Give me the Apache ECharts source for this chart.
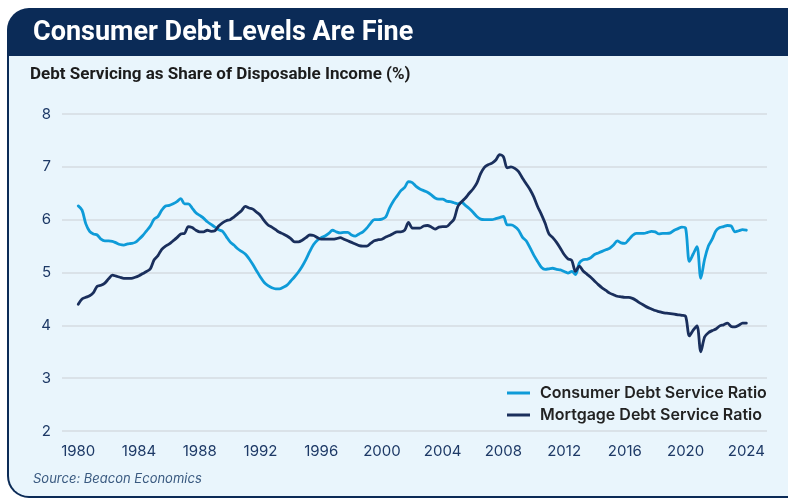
<!DOCTYPE html>
<html>
<head>
<meta charset="utf-8">
<script src="https://cdn.jsdelivr.net/npm/echarts@6/dist/echarts.min.js"></script>
<style>
html,body{margin:0;padding:0;background:#ffffff;}
#c{width:788px;height:500px;}
</style>
</head>
<body>
<div id="c"></div>
<script>
// Quarterly data, 1980Q1 .. 2024Q1
const startYear = 1980;
const yearTicks = [1980,1984,1988,1992,1996,2000,2004,2008,2012,2016,2020,2024];
const seriesNames = ['Consumer Debt Service Ratio','Mortgage Debt Service Ratio'];
const consumerDSR = [
  6.26,6.18,5.92,5.78, 5.73,5.71,5.63,5.60, 5.60,5.59,5.56,5.53, 5.52,5.54,5.55,5.57,
  5.63,5.70,5.79,5.88, 6.01,6.06,6.18,6.26, 6.27,6.30,6.34,6.40, 6.30,6.30,6.22,6.13,
  6.08,6.03,5.96,5.91, 5.86,5.81,5.78,5.68, 5.58,5.52,5.45,5.40, 5.35,5.26,5.15,5.03,
  4.91,4.81,4.75,4.71, 4.69,4.69,4.72,4.76, 4.84,4.92,5.01,5.12, 5.25,5.40,5.53,5.61,
  5.66,5.69,5.74,5.80, 5.77,5.75,5.76,5.76, 5.71,5.69,5.73,5.77, 5.84,5.93,6.00,6.00,
  6.01,6.05,6.22,6.35, 6.45,6.55,6.61,6.72, 6.70,6.63,6.58,6.55, 6.52,6.47,6.41,6.39,
  6.39,6.35,6.34,6.32, 6.30,6.33,6.27,6.21, 6.14,6.06,6.01,6.00, 6.00,6.00,6.02,6.04,
  6.06,5.90,5.90,5.87, 5.80,5.67,5.60,5.47, 5.33,5.21,5.10,5.06, 5.07,5.08,5.06,5.05,
  5.02,4.99,5.02,4.96, 5.18,5.24,5.25,5.28, 5.34,5.37,5.40,5.43, 5.46,5.52,5.60,5.56,
  5.55,5.62,5.70,5.74, 5.74,5.74,5.76,5.78, 5.77,5.73,5.74,5.74, 5.75,5.80,5.83,5.86,
  5.84,5.21,5.35,5.49, 4.89,5.25,5.50,5.63, 5.79,5.85,5.87,5.89, 5.88,5.77,5.79,5.81,
  5.80
];
const mortgageDSR = [
  4.40,4.50,4.53,4.56, 4.62,4.74,4.76,4.80, 4.88,4.95,4.93,4.91, 4.89,4.89,4.89,4.91,
  4.94,4.98,5.02,5.07, 5.24,5.32,5.44,5.50, 5.54,5.60,5.66,5.73, 5.74,5.87,5.85,5.80,
  5.77,5.77,5.80,5.78, 5.79,5.88,5.94,5.98, 6.00,6.05,6.11,6.17, 6.25,6.22,6.20,6.14,
  6.08,5.98,5.90,5.86, 5.81,5.76,5.73,5.69, 5.64,5.58,5.58,5.61, 5.66,5.71,5.70,5.66,
  5.63,5.63,5.63,5.63, 5.64,5.66,5.63,5.60, 5.57,5.54,5.51,5.50, 5.50,5.55,5.60,5.62,
  5.63,5.67,5.70,5.74, 5.77,5.77,5.80,5.95, 5.84,5.84,5.84,5.88, 5.89,5.86,5.82,5.86,
  5.87,5.87,5.93,6.01, 6.25,6.34,6.41,6.50, 6.58,6.69,6.87,6.99, 7.04,7.07,7.13,7.23,
  7.19,6.98,7.00,6.97, 6.91,6.79,6.68,6.57, 6.43,6.25,6.10,5.93, 5.73,5.66,5.57,5.46,
  5.34,5.26,5.23,5.02, 5.12,5.03,4.97,4.91, 4.84,4.77,4.71,4.66, 4.61,4.58,4.55,4.54,
  4.53,4.53,4.51,4.47, 4.42,4.38,4.34,4.31, 4.28,4.26,4.24,4.23, 4.22,4.21,4.20,4.19,
  4.17,3.80,3.91,3.99, 3.50,3.78,3.86,3.90, 3.93,3.99,4.01,4.04, 3.98,3.97,4.00,4.04,
  4.04
];

const toPairs = arr => arr.map((v, i) => [startYear + i / 4, v]);

const NAVY = '#0b2b57';
const BODY = '#e9f5fc';
const CONS = '#0e9bd8';
const MORT = '#1a2f5c';
const LABEL = '#1d3966';

const chart = echarts.init(document.getElementById('c'), null, {renderer: 'canvas'});
chart.setOption({
  animation: false,
  backgroundColor: '#ffffff',
  graphic: [
    {type: 'rect', z: -10, silent: true,
     shape: {x: 7, y: 8, width: 820, height: 490, r: [22, 22, 0, 22]},
     style: {fill: NAVY}},
    {type: 'rect', z: -9, silent: true,
     shape: {x: 9, y: 56, width: 820, height: 440, r: [0, 0, 0, 20]},
     style: {fill: BODY}},
    {type: 'text', z: 5, silent: true,
     style: {text: 'Consumer Debt Levels Are Fine', x: 33, y: 33,
             font: 'bold 27px Roboto', fill: '#ffffff', verticalAlign: 'middle'}},
    {type: 'text', z: 5, silent: true,
     style: {text: 'Debt Servicing as Share of Disposable Income (%)', x: 30, y: 75,
             font: 'bold 17px Roboto', fill: '#1c1c1c', verticalAlign: 'middle'}},
    {type: 'text', z: 5, silent: true,
     style: {text: 'Source: Beacon Economics', x: 33, y: 479,
             font: 'italic 13px Inter', fill: '#3a5a80', verticalAlign: 'middle'}}
  ],
  grid: {left: 62, right: 21, top: 114, bottom: 69, containLabel: false},
  legend: {
    orient: 'vertical',
    left: 507,
    top: 385,
    padding: 0,
    itemWidth: 23,
    itemHeight: 3,
    itemGap: 6,
    icon: 'rect',
    data: seriesNames,
    textStyle: {fontFamily: 'Inter', fontWeight: 600, fontSize: 16, color: '#222222',
                padding: [0, 0, 0, 5]}
  },
  xAxis: {
    type: 'value',
    min: 1978.93,
    max: 2025.36,
    axisLine: {show: false},
    axisTick: {show: false},
    splitLine: {show: false},
    axisLabel: {
      customValues: yearTicks,
      margin: 13,
      fontFamily: 'Inter',
      fontSize: 15,
      color: LABEL,
      formatter: v => String(v)
    }
  },
  yAxis: {
    type: 'value',
    min: 2,
    max: 8,
    interval: 1,
    axisLine: {show: false},
    axisTick: {show: false},
    splitLine: {lineStyle: {color: '#d5dbe2', width: 1.5}},
    axisLabel: {margin: 11, fontFamily: 'Inter', fontSize: 15, color: LABEL}
  },
  series: [
    {name: seriesNames[0], type: 'line', showSymbol: false, smooth: 0.3,
     data: toPairs(consumerDSR), color: CONS,
     lineStyle: {color: CONS, width: 2.8, cap: 'round', join: 'round'}},
    {name: seriesNames[1], type: 'line', showSymbol: false, smooth: 0.3,
     data: toPairs(mortgageDSR), color: MORT,
     lineStyle: {color: MORT, width: 2.8, cap: 'round', join: 'round'}}
  ]
});
</script>
</body>
</html>
